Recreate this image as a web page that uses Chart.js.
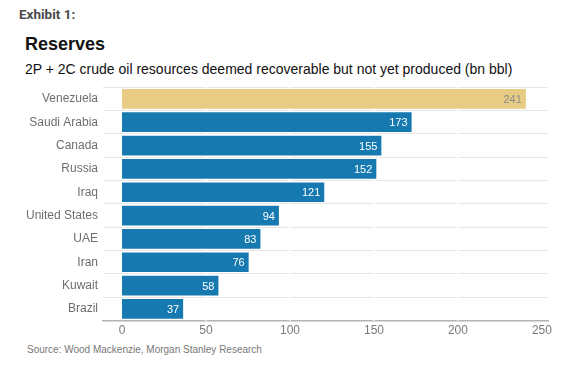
<!DOCTYPE html>
<html>
<head>
<meta charset="utf-8">
<script src="https://cdn.jsdelivr.net/npm/chart.js@4.4.1/dist/chart.umd.min.js"></script>
<style>
  html, body { margin: 0; padding: 0; background: #fff; }
  body { width: 568px; height: 366px; position: relative; overflow: hidden; font-family: "Liberation Sans", Arial, sans-serif; }
  .exhibit { position: absolute; left: 19px; top: 6px; font: bold 13.5px Roboto, sans-serif; color: #4a4a4a; }
  .title { position: absolute; left: 25px; top: 34px; font-weight: bold; font-size: 18px; color: #111; }
  .subtitle { position: absolute; left: 25px; top: 61px; font-size: 14px; color: #111; }
  .source { position: absolute; left: 27px; top: 344px; font-size: 10px; color: #777; }
  #wrap { position: absolute; left: 0; top: 75px; width: 568px; height: 266px; }
</style>
</head>
<body>
<div class="exhibit">Exhibit 1:</div>
<div class="title">Reserves</div>
<div class="subtitle">2P + 2C crude oil resources deemed recoverable but not yet produced (bn bbl)</div>
<div id="wrap"><canvas id="chart"></canvas></div>
<div class="source">Source: Wood Mackenzie, Morgan Stanley Research</div>

<script>
// data
const countries = ["Venezuela", "Saudi Arabia", "Canada", "Russia", "Iraq",
  "United States", "UAE", "Iran", "Kuwait", "Brazil"];
const reserves = [241, 173, 155, 152, 121, 94, 83, 76, 58, 37];
const xTicks = [0, 50, 100, 150, 200, 250];

const barColors = countries.map((c, i) => (i === 0 ? "#e9cc84" : "#1679b0"));
const labelColors = countries.map((c, i) => (i === 0 ? "#8c8c8c" : "#ffffff"));

// white vertical breaks in the light horizontal grid, at the x ticks
const gridBreaks = {
  id: "gridBreaks",
  beforeDatasetsDraw(chart) {
    const { ctx, chartArea, scales } = chart;
    ctx.save();
    ctx.strokeStyle = "#ffffff";
    ctx.lineWidth = 2;
    xTicks.slice(1, -1).forEach((v) => {
      const x = scales.x.getPixelForValue(v);
      ctx.beginPath();
      ctx.moveTo(x, chartArea.top);
      ctx.lineTo(x, chartArea.bottom);
      ctx.stroke();
    });
    ctx.restore();
  },
};

// value labels at the end of each bar
const barLabels = {
  id: "barLabels",
  afterDatasetsDraw(chart) {
    const ctx = chart.ctx;
    const meta = chart.getDatasetMeta(0);
    ctx.save();
    ctx.font = "11px 'Liberation Sans', Arial, sans-serif";
    ctx.textAlign = "right";
    ctx.textBaseline = "middle";
    meta.data.forEach((bar, i) => {
      ctx.fillStyle = labelColors[i];
      ctx.fillText(String(reserves[i]), bar.x - 5, bar.y + 1);
    });
    ctx.restore();
  },
};

new Chart(document.getElementById("chart"), {
  type: "bar",
  data: {
    labels: countries,
    datasets: [{
      data: reserves,
      backgroundColor: barColors,
      borderColor: "rgba(255,255,255,0.6)",
      borderWidth: 1,
      barPercentage: 0.93,
      categoryPercentage: 1,
    }],
  },
  options: {
    indexAxis: "y",
    responsive: true,
    maintainAspectRatio: false,
    animation: false,
    layout: { padding: { top: 5, right: 20, bottom: 0, left: 0 } },
    plugins: { legend: { display: false }, tooltip: { enabled: false } },
    scales: {
      x: {
        min: -11.3,
        max: 253.6,
        afterBuildTicks: (axis) => { axis.ticks = xTicks.map((v) => ({ value: v })); },
        grid: { display: false, drawTicks: false },
        border: { display: true, color: "#b3b3b3", width: 1.5 },
        ticks: {
          color: "#7a7a7a",
          padding: 3,
          font: { family: "'Liberation Sans', Arial, sans-serif", size: 12 },
        },
      },
      y: {
        grid: { color: "#e6e6e6", lineWidth: 1, drawTicks: false },
        border: { display: false },
        ticks: {
          color: "#6e6e6e",
          padding: 5,
          font: { family: "'Liberation Sans', Arial, sans-serif", size: 12 },
        },
        afterFit: (axis) => { axis.width = 103; },
      },
    },
  },
  plugins: [gridBreaks, barLabels],
});
</script>
</body>
</html>
